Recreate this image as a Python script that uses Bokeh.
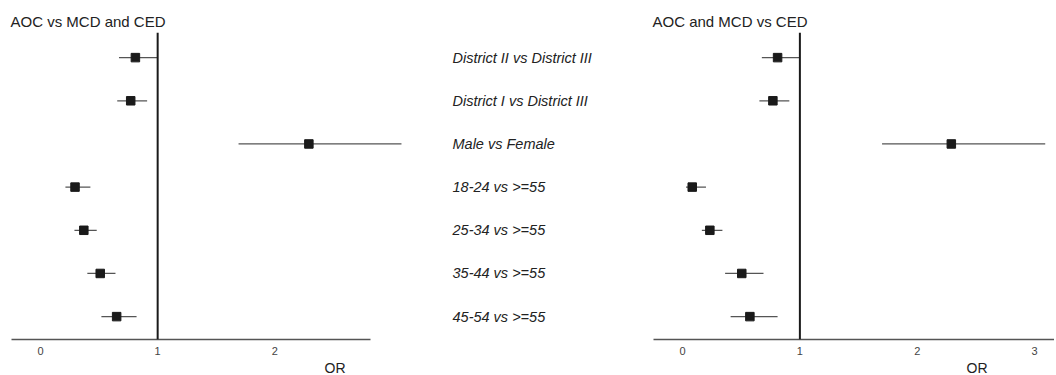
from bokeh.plotting import figure
from bokeh.models import Span, Title, Range1d, FixedTicker
from bokeh.layouts import row
from bokeh.embed import file_html
from bokeh.resources import INLINE

labels = ["District II vs District III", "District I vs District III", "Male vs Female",
          "18-24 vs >=55", "25-34 vs >=55", "35-44 vs >=55", "45-54 vs >=55"]

left_or = [0.81, 0.77, 2.29, 0.295, 0.37, 0.51, 0.65]
left_lo = [0.67, 0.655, 1.69, 0.213, 0.29, 0.40, 0.52]
left_hi = [1.00, 0.91, 3.08, 0.426, 0.48, 0.64, 0.82]

right_or = [0.81, 0.77, 2.29, 0.083, 0.233, 0.505, 0.574]
right_lo = [0.676, 0.655, 1.70, 0.03, 0.165, 0.363, 0.41]
right_hi = [1.00, 0.91, 3.09, 0.20, 0.34, 0.69, 0.81]

left_ticks = [0, 1, 2]
right_ticks = [0, 1, 2, 3]

left_title = "AOC vs MCD and CED"
right_title = "AOC and MCD vs CED"
axis_title = "OR"

FONT = "Liberation Sans"
n = len(labels)
ys = list(range(n, 0, -1))


def make_panel(title, ors, los, his, ticks, xr, axis_bounds, width, mbl, mbr, ylabels,
               label_standoff, or_offset):
    p = figure(width=width, height=375, output_backend="svg", toolbar_location=None,
               x_range=Range1d(*xr), y_range=Range1d(0.47, n + 0.582),
               y_axis_location="right" if ylabels else None,
               min_border_left=mbl, min_border_right=mbr, min_border_top=32, min_border_bottom=0)
    p.outline_line_color = None
    p.xgrid.visible = False
    p.ygrid.visible = False
    p.background_fill_color = "white"
    p.border_fill_color = "white"

    p.title.text = title
    p.title.text_font = FONT
    p.title.text_font_size = "15px"
    p.title.text_font_style = "normal"
    p.title.text_color = "#222222"
    p.title.align = "left"
    p.title.offset = -1
    p.title.standoff = 6

    xa = p.xaxis[0]
    xa.ticker = FixedTicker(ticks=ticks)
    xa.bounds = axis_bounds
    xa.major_tick_out = 0
    xa.major_tick_in = 0
    xa.minor_tick_out = 0
    xa.minor_tick_in = 0
    xa.axis_line_color = "#555555"
    xa.axis_line_width = 1.5
    xa.major_label_text_font = FONT
    xa.major_label_text_font_size = "11px"
    xa.major_label_text_color = "#444444"
    xa.major_label_standoff = 7

    if ylabels:
        ya = p.yaxis[0]
        ya.ticker = FixedTicker(ticks=ys)
        ya.major_label_overrides = {y: lab for y, lab in zip(ys, ylabels)}
        ya.major_tick_out = 0
        ya.major_tick_in = 0
        ya.minor_tick_out = 0
        ya.minor_tick_in = 0
        ya.axis_line_color = None
        ya.major_label_standoff = label_standoff
        ya.major_label_text_font = FONT
        ya.major_label_text_font_size = "14.5px"
        ya.major_label_text_font_style = "italic"
        ya.major_label_text_color = "#222222"

    p.add_layout(Span(location=1, dimension="height", line_color="#1a1a1a", line_width=2))
    p.segment(x0=los, y0=ys, x1=his, y1=ys, line_color="#555555", line_width=1.3)
    p.scatter(x=ors, y=ys, marker="square", size=8.5, fill_color="#1a1a1a", line_color="#1a1a1a")

    p.add_layout(Title(text=axis_title, align="right", offset=or_offset, standoff=0,
                       text_font=FONT, text_font_size="14px", text_font_style="normal",
                       text_color="#222222"), "below")
    return p


left = make_panel(left_title, left_or, left_lo, left_hi, left_ticks, (-0.247, 3.157),
                  (-0.247, 2.816), 640, 11, 230, labels, 42, 65)
right = make_panel(right_title, right_or, right_lo, right_hi, right_ticks, (-0.247, 3.169),
                   (-0.247, 3.169), 414, 13, 0, None, 0, 67)

layout = row(left, right, spacing=0)
open("out.html", "w").write(file_html(layout, INLINE))
